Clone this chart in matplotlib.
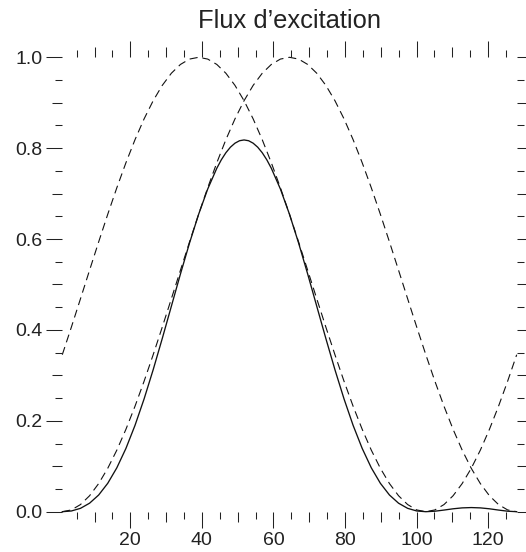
import matplotlib
matplotlib.use("Agg")
import matplotlib.pyplot as plt

# ---- data ----
x = [1.0, 3.54, 6.08, 8.62, 11.16, 13.7, 16.24, 18.78, 21.32, 23.86,
     26.4, 28.94, 31.48, 34.02, 36.56, 39.1, 41.64, 44.18, 46.72, 49.26,
     51.8, 54.34, 56.88, 59.42, 61.96, 64.5, 67.04, 69.58, 72.12, 74.66,
     77.2, 79.74, 82.28, 84.82, 87.36, 89.9, 92.44, 94.98, 97.52, 100.06,
     102.6, 105.14, 107.68, 110.22, 112.76, 115.3, 117.84, 120.38, 122.92, 125.46,
     128.0]

flux_a = [0.3455, 0.4063, 0.4686, 0.5314, 0.5937, 0.6545, 0.7129, 0.7679, 0.8187, 0.8645,
          0.9045, 0.9382, 0.9649, 0.9843, 0.9961, 1.0000, 0.9961, 0.9843, 0.9649, 0.9382,
          0.9045, 0.8645, 0.8187, 0.7679, 0.7129, 0.6545, 0.5937, 0.5314, 0.4686, 0.4063,
          0.3455, 0.2871, 0.2321, 0.1813, 0.1355, 0.0955, 0.0619, 0.0351, 0.0157, 0.0039,
          0.0000, 0.0039, 0.0157, 0.0351, 0.0619, 0.0955, 0.1355, 0.1813, 0.2321, 0.2871,
          0.3455]

flux_b = [0.0000, 0.0039, 0.0157, 0.0351, 0.0619, 0.0955, 0.1355, 0.1813, 0.2321, 0.2871,
          0.3455, 0.4063, 0.4686, 0.5314, 0.5937, 0.6545, 0.7129, 0.7679, 0.8187, 0.8645,
          0.9045, 0.9382, 0.9649, 0.9843, 0.9961, 1.0000, 0.9961, 0.9843, 0.9649, 0.9382,
          0.9045, 0.8645, 0.8187, 0.7679, 0.7129, 0.6545, 0.5937, 0.5314, 0.4686, 0.4063,
          0.3455, 0.2871, 0.2321, 0.1813, 0.1355, 0.0955, 0.0619, 0.0351, 0.0157, 0.0039,
          0.0000]

# the solid curve is read a little more densely around its peak
x_prod = [1.0, 3.54, 6.08, 8.62, 11.16, 13.7, 16.24, 18.78, 21.32, 23.86,
          26.4, 28.94, 31.48, 34.02, 36.56, 39.1, 41.64, 44.18, 45.45, 46.72, 47.99,
          49.26, 50.53, 51.8, 53.07, 54.34, 55.61, 56.88, 58.15, 59.42, 61.96,
          64.5, 67.04, 69.58, 72.12, 74.66,
          77.2, 79.74, 82.28, 84.82, 87.36, 89.9, 92.44, 94.98, 97.52, 100.06,
          102.6, 105.14, 107.68, 110.22, 112.76, 115.3, 117.84, 120.38, 122.92, 125.46,
          128.0]

flux_prod = [0.0000, 0.0016, 0.0074, 0.0187, 0.0367, 0.0625, 0.0966, 0.1392, 0.1900, 0.2482,
             0.3125, 0.3812, 0.4521, 0.5231, 0.5914, 0.6545, 0.7101, 0.7558, 0.7745, 0.7900, 0.8022,
             0.8110, 0.8164, 0.8181, 0.8164, 0.8110, 0.8022, 0.7900, 0.7745, 0.7558, 0.7101,
             0.6545, 0.5914, 0.5231, 0.4521, 0.3812,
             0.3125, 0.2482, 0.1900, 0.1392, 0.0966, 0.0625, 0.0367, 0.0187, 0.0074, 0.0016,
             0.0000, 0.0011, 0.0036, 0.0064, 0.0084, 0.0091, 0.0084, 0.0064, 0.0036, 0.0011,
             0.0000]

title = "Flux d\u2019excitation"
x_major = [20, 40, 60, 80, 100, 120]
x_mid = [10, 30, 50, 70, 90, 110]
x_minor = [5, 15, 25, 35, 45, 55, 65, 75, 85, 95, 105, 115, 125]
y_major = [0.0, 0.2, 0.4, 0.6, 0.8, 1.0]
y_mid = [0.1, 0.3, 0.5, 0.7, 0.9]
y_minor = [0.05, 0.15, 0.25, 0.35, 0.45, 0.55, 0.65, 0.75, 0.85, 0.95]
x_labels = ["20", "40", "60", "80", "100", "120"]
y_labels = ["0.0", "0.2", "0.4", "0.6", "0.8", "1.0"]

# ---- figure ----
plt.rcParams['font.family'] = ['Liberation Sans', 'DejaVu Sans']
plt.rcParams['lines.scale_dashes'] = False

W, H = 526, 552
fig = plt.figure(figsize=(W / 100, H / 100), dpi=100)
left_px, right_px, top_px, bottom_px = 62.3, 516.7, 57.3, 511.7
rect = [left_px / W, 1 - bottom_px / H, (right_px - left_px) / W, (bottom_px - top_px) / H]

ax = fig.add_axes(rect)
ax.plot(x_prod, flux_prod, color='#111111', lw=0.95, clip_on=False)
ax.plot(x, flux_a, color='#111111', lw=0.8, ls=(0, (5.8, 3.6)), clip_on=False)
ax.plot(x, flux_b, color='#111111', lw=0.8, ls=(0, (5.8, 3.6)), clip_on=False)
ax.set_xlim(1, 128)
ax.set_ylim(0, 1.0)
for s in ax.spines.values():
    s.set_visible(False)

ax.set_xticks(x_major)
ax.set_xticklabels(x_labels)
ax.set_xticks(x_mid, minor=True)
ax.set_yticks(y_major)
ax.set_yticklabels(y_labels)
ax.set_yticks(y_mid, minor=True)
ax.tick_params(which='both', direction='out', top=True, right=True,
               labeltop=False, labelright=False, color='#222222', width=0.75)
ax.tick_params(which='major', length=11.8, pad=2.5, labelsize=14, labelcolor='#222222')
ax.tick_params(which='minor', length=7.2)

# third tick level (short ticks)
ax2 = fig.add_axes(rect, frameon=False)
ax2.patch.set_visible(False)
ax2.set_xlim(1, 128)
ax2.set_ylim(0, 1.0)
ax2.set_xticks(x_minor)
ax2.set_yticks(y_minor)
ax2.tick_params(direction='out', top=True, right=True, length=4.8,
                labelbottom=False, labelleft=False, color='#222222', width=0.75)

fig.text((left_px + right_px) / 2 / W, 1 - 28.5 / H, title,
         ha='center', va='baseline', fontsize=18.4, color='#222222')

fig.savefig("out.png", dpi=100)
